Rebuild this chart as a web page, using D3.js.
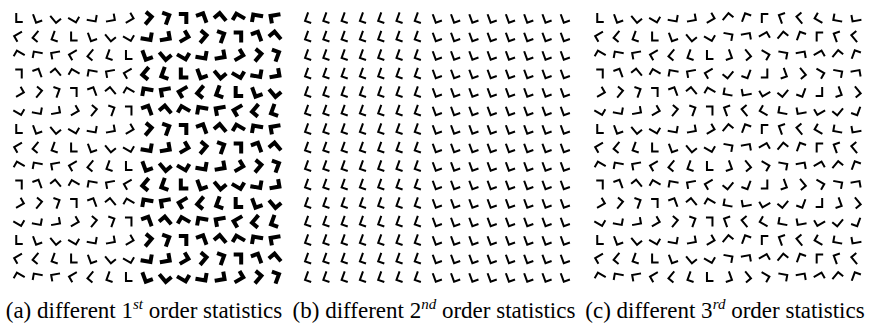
<!DOCTYPE html>
<html>
<head>
<meta charset="utf-8">
<script src="https://cdn.jsdelivr.net/npm/d3@7"></script>
<style>
  body { margin: 0; background: #fff; }
  svg { display: block; }
</style>
</head>
<body>
<script>
// texture panels made of rotated L glyphs

// angle (deg, counter-clockwise) of each column in the first row
var colAngles = [0, 20, 40, 60, 80, 100, 120, 140, 160, 180, 200, 220, 240, 260, 280];
// angle shift added to every row
var rowShifts = [0, -60, -120, -180, -240, -300, 0, -60, -120, -180, -240, -300, 0, -60, -120];

// panel (a): stroke weight per column (1 = normal, 2 = bold)
var weightA = [1, 1, 1, 1, 1, 1, 1, 2, 2, 2, 2, 2, 2, 2, 2];
// panel (b): fixed angle per column
var anglesB = [-20, -20, -20, -20, -20, -20, -20, 20, 20, 20, 20, 20, 20, 20, 20];
// panel (c): mirrored glyph per column
var mirrorC = [0, 0, 0, 0, 0, 0, 0, 1, 1, 1, 1, 1, 1, 1, 1];

var captions = [
  {label: "(a) different 1", sup: "st", rest: " order statistics"},
  {label: "(b) different 2", sup: "nd", rest: " order statistics"},
  {label: "(c) different 3", sup: "rd", rest: " order statistics"}
];

var width = 872, height = 326;
var panelX = [0, 290, 581];

var svg = d3.select("body").append("svg")
    .attr("width", width)
    .attr("height", height);

var x = d3.scalePoint().domain(d3.range(colAngles.length)).range([19, 275]);
var y = d3.scalePoint().domain(d3.range(rowShifts.length)).range([18, 277]);

// L glyph centred on its bounding box: long arm up, short arm right
var longArm = 8, shortArm = 5.5;
var glyphPath = "M" + (-shortArm / 2) + "," + (-longArm / 2) +
    "V" + (longArm / 2) + "H" + (shortArm / 2);

function cellsFor(p){
  var cells = [];
  rowShifts.forEach(function(shift, i){
    colAngles.forEach(function(a, j){
      var c = {row: i, col: j, angle: a + shift, weight: 1, mirror: 0};
      if (p == 0) c.weight = weightA[j];
      if (p == 1) c.angle = anglesB[j];
      if (p == 2) c.mirror = mirrorC[j];
      cells.push(c);
    });
  });
  return cells;
}

panelX.forEach(function(px, p){
  var g = svg.append("g").attr("transform", "translate(" + px + ",0)");

  g.selectAll(".glyph")
    .data(cellsFor(p))
    .enter()
    .append("path")
    .attr("class", "glyph")
    .attr("d", glyphPath)
    .attr("transform", function(d){
      return "translate(" + x(d.col) + "," + y(d.row) + ") rotate(" + (-d.angle) + ")" +
        (d.mirror ? " scale(-1,1)" : "");
    })
    .attr("fill", "none")
    .attr("stroke", "#000")
    .attr("stroke-width", function(d){ return d.weight == 2 ? 4 : 2; })
    .attr("stroke-linecap", "square")
    .attr("stroke-linejoin", "miter");

  var t = g.append("text")
    .attr("x", 144)
    .attr("y", 318)
    .attr("text-anchor", "middle")
    .style("font-family", "'Liberation Serif', 'Times New Roman', serif")
    .style("font-size", "23px")
    .attr("fill", "#000");
  t.append("tspan").text(captions[p].label);
  t.append("tspan")
    .attr("dy", -9)
    .style("font-size", "15px")
    .style("font-style", "italic")
    .text(captions[p].sup);
  t.append("tspan")
    .attr("dy", 9)
    .text(captions[p].rest);
});
</script>
</body>
</html>
